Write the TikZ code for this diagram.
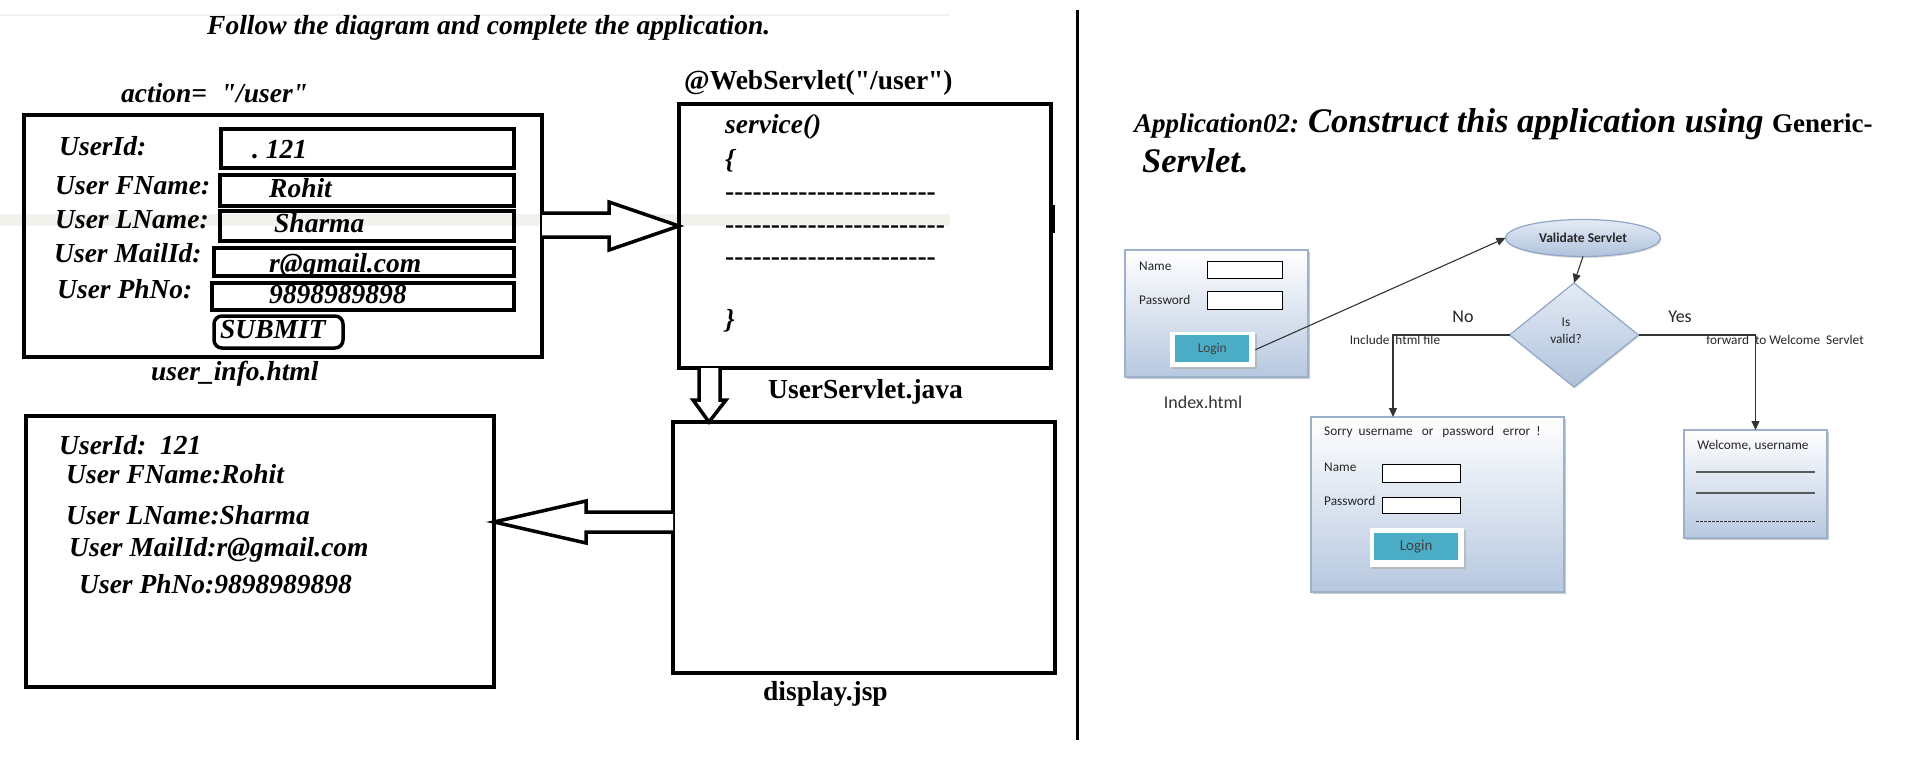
\documentclass[tikz,border=0pt]{standalone}
\usepackage{fontspec}
\setmainfont{Liberation Serif}[Ligatures=TeXOff]
\newfontfamily\carl{Carlito}
\usetikzlibrary{arrows.meta,shapes.geometric,shadows}
\definecolor{btnteal}{HTML}{4BACC6}
\definecolor{pborder}{HTML}{9DB1CC}
\definecolor{pbot}{HTML}{B7C8E0}
\definecolor{etop}{HTML}{E4EBF5}
\definecolor{ebot}{HTML}{AFC2DC}
\definecolor{eborder}{HTML}{8FA6C6}
\definecolor{faint}{HTML}{F2F2EC}
\newcommand\dashrow[1]{\foreach \k in {1,...,#1}{-\kern0pt}}
\tikzset{
  thickbox/.style={draw=black, line width=3.5pt, inner sep=0pt, outer sep=0pt, anchor=north west},
  lt/.style={font=\fontsize{27.5}{30}\selectfont\bfseries\itshape, inner sep=0pt, anchor=base west},
  lb/.style={font=\fontsize{27.5}{30}\selectfont\bfseries, inner sep=0pt, anchor=base west},
  blk/.style={draw=black, line width=3.5pt, fill=white},
  panel/.style={draw=pborder, line width=1.2pt, top color=white, bottom color=pbot, anchor=north west, inner sep=0pt, outer sep=0pt,
    drop shadow={shadow xshift=1.5pt, shadow yshift=-2pt, fill=gray!70, opacity=.6}},
  field/.style={draw=black, line width=0.8pt, fill=white, anchor=north west, inner sep=0pt},
  btnframe/.style={fill=white, anchor=north west, inner sep=0pt,
    drop shadow={shadow xshift=1.5pt, shadow yshift=-2pt, fill=gray!60, opacity=.7}},
  btn/.style={fill=btnteal, anchor=north west, inner sep=0pt, text=black!75},
  sf/.style={font=\fontsize{13.3}{15}\selectfont\carl, inner sep=0pt, text=black!85},
  flow/.style={draw=black!80, line width=1.1pt, -{Triangle[length=9pt,width=8pt]}},
  fshape/.style={draw=eborder, line width=1.2pt, top color=etop, bottom color=ebot, inner sep=0pt, outer sep=0pt,
    drop shadow={shadow xshift=1pt, shadow yshift=-1.5pt, fill=gray!50, opacity=.5}},
}
\begin{document}
\begin{tikzpicture}[x=1pt,y=-1pt]
\useasboundingbox (0,0) rectangle (1914,765);
\fill[white] (0,0) rectangle (1914,765);
% faint background streaks
\fill[faint] (0,214) rectangle (950,226);
\draw[faint, line width=1.5pt] (0,15) -- (950,15);

% ---------- left part ----------
\node[lt] (title) at (207,35) {Follow the diagram and complete the application.};
\node[lt] (action) at (121,103) {action=\ \ "/user"};

\node[thickbox, minimum width=518pt, minimum height=242pt] (form) at (24,115) {};
\node[thickbox, minimum width=293pt, minimum height=39pt] (uid) at (221,129) {};
\node[thickbox, minimum width=294pt, minimum height=31pt] (fname) at (220,175) {};
\node[thickbox, minimum width=294pt, minimum height=30pt] (lname) at (220,211) {};
\node[thickbox, minimum width=300pt, minimum height=28pt] (mail) at (214,248) {};
\node[thickbox, minimum width=302pt, minimum height=27pt] (phone) at (212,283) {};
\node[thickbox, rounded corners=8pt, minimum width=129pt, minimum height=32pt] (submit) at (214,316) {};

\node[lt] (l1) at (59,155) {UserId:};
\node[lt] (l2) at (55,194) {User FName:};
\node[lt] (l3) at (55,228) {User LName:};
\node[lt] (l4) at (54,262) {User MailId:};
\node[lt] (l5) at (57,298) {User PhNo:};
\node[lt] (v1) at (252,158) {.\ 121};
\node[lt] (v2) at (269,197) {Rohit};
\node[lt] (v3) at (274,232) {Sharma};
\node[lt] (v4) at (269,272) {r@gmail.com};
\node[lt] (v5) at (269,303) {9898989898};
\node[lt] (v6) at (220,338) {SUBMIT};
\node[lt] (formname) at (151,380) {user\_info.html};

\node[lb] (annot) at (684,90) {@WebServlet("/user")};
\node[thickbox, minimum width=372pt, minimum height=264pt] (servlet) at (679,104) {};
\node[lt] (svc) at (725,134) {service()};
\node[lt] (ob) at (725,168) {\{};
\node[lb] (d1) at (725,200) {\dashrow{23}};
\node[lb] (d2) at (725,233) {\dashrow{24}};
\node[lb] (d3) at (725,265) {\dashrow{23}};
\node[lt] (cb) at (725,328) {\}};
\node[lb] (servname) at (768,398) {UserServlet.java};
\draw[line width=2pt] (1054,205) -- (1054,233);

\node[thickbox, minimum width=382pt, minimum height=251pt] (display) at (673,422) {};
\node[lb] (dispname) at (763,700) {display.jsp};

\node[thickbox, minimum width=468pt, minimum height=271pt] (output) at (26,416) {};
\node[lt] (o1) at (59,454) {UserId:\ \ 121};
\node[lt] (o2) at (66,483) {User FName:Rohit};
\node[lt] (o3) at (66,524) {User LName:Sharma};
\node[lt] (o4) at (69,556) {User MailId:r@gmail.com};
\node[lt] (o5) at (79,593) {User PhNo:9898989898};

% block arrows
\draw[blk] (form.east |- 0,213) -- (609,213) -- (609,202) -- (servlet.west |- 0,226) -- (609,250) -- (609,237) -- (form.east |- 0,237);
\draw[blk] (699,0 |- servlet.south) -- (699,400) -- (693,400) -- (709,0 |- display.north) -- (726,400) -- (720,400) -- (720,0 |- servlet.south);
\draw[blk] (display.west |- 0,512) -- (586,512) -- (586,501) -- (output.east |- 0,522) -- (586,543) -- (586,532) -- (display.west |- 0,532);

% divider
\coordinate (divtop) at (1077,10);
\coordinate (divbot) at (1077,740);
\draw[line width=3pt] (divtop) -- (divbot);

% ---------- right part ----------
\node[inner sep=0pt, anchor=base west] (apptitle) at (1134,132)
  {\fontsize{27}{30}\selectfont\bfseries\itshape Application02: \fontsize{34.5}{40}\selectfont Construct this application using \fontsize{27}{30}\selectfont\upshape Generic-};
\node[inner sep=0pt, anchor=base west] (apptitle2) at (1142,172)
  {\fontsize{34.5}{40}\selectfont\bfseries\itshape Servlet.};

% index.html
\node[panel, minimum width=183pt, minimum height=127pt] (index) at (1125,250) {};
\node[sf, anchor=west] (in1) at (1139,266) {Name};
\node[field, minimum width=75pt, minimum height=17pt] (iname) at (1207,261) {};
\node[sf, anchor=west] (in2) at (1139,300) {Password};
\node[field, minimum width=75pt, minimum height=18pt] (ipwd) at (1207,291) {};
\node[btnframe, minimum width=85pt, minimum height=35pt] (iloginf) at (1170,332) {};
\node[btn, sf, text=black!75, minimum width=74pt, minimum height=27pt] (ilogin) at (1175,335) {Login};
\node[font=\fontsize{18}{20}\selectfont\carl, text=black!80, inner sep=0pt] (indexname) at (1203,402) {Index.html};

% validate servlet + decision
\node[fshape, ellipse, minimum width=155pt, minimum height=37pt, font=\fontsize{13.5}{15}\selectfont\carl\bfseries, text=black!85] (validate) at (1583,238) {Validate Servlet};
\node[fshape, diamond, minimum width=129pt, minimum height=104pt] (valid) at (1574,335) {};
\node[sf, align=center] (validtxt) at (1566,331) {Is\\[2pt]valid?};

\node[font=\fontsize{18}{20}\selectfont\carl, text=black!85, inner sep=0pt] (no) at (1463,317) {No};
\node[font=\fontsize{18}{20}\selectfont\carl, text=black!85, inner sep=0pt] (yes) at (1680,317) {Yes};
\node[sf] (inc) at (1395,340) {Include\ \ html file};
\node[sf] (fwd) at (1785,340) {forward\ \ to Welcome\ \ Servlet};

% error page
\node[panel, minimum width=253pt, minimum height=175pt] (sorry) at (1311,417) {};
\node[sf, anchor=west] (s0) at (1324,432) {Sorry\ \ username\ \ \ or\ \ \ password\ \ \ error\ \ !};
\node[sf, anchor=west] (s1) at (1324,467) {Name};
\node[field, minimum width=78pt, minimum height=18pt] (sname) at (1382,464) {};
\node[sf, anchor=west] (s2) at (1324,501) {Password};
\node[field, minimum width=78pt, minimum height=16pt] (spwd) at (1382,497) {};
\node[btnframe, minimum width=94pt, minimum height=39pt] (sloginf) at (1370,528) {};
\node[btn, font=\fontsize{15}{17}\selectfont\carl, text=black!75, minimum width=84pt, minimum height=27pt] (slogin) at (1374,533) {Login};

% welcome page
\node[panel, minimum width=143pt, minimum height=108pt] (welcome) at (1684,430) {};
\node[sf] (w0) at (1753,446) {Welcome, username};
\draw[line width=1.5pt, black!65] (1696,472) -- (1815,472);
\draw[line width=1.5pt, black!65] (1696,493) -- (1815,493);
\draw[line width=.8pt, black!80, dash pattern=on 2.5pt off 1.5pt] (1696,521) -- (1815,521);

% connectors
\draw[flow] (iloginf.east) -- (validate.west);
\draw[flow] (validate.south) -- (valid.north);
\coordinate (nobend) at (1393,0 |- valid.west);
\draw[flow] (valid.west) -- (nobend) -- (nobend |- sorry.north);
\coordinate (yesbend) at (welcome.north |- valid.east);
\draw[flow] (valid.east) -- (yesbend) -- (welcome.north);
\end{tikzpicture}
\end{document}
